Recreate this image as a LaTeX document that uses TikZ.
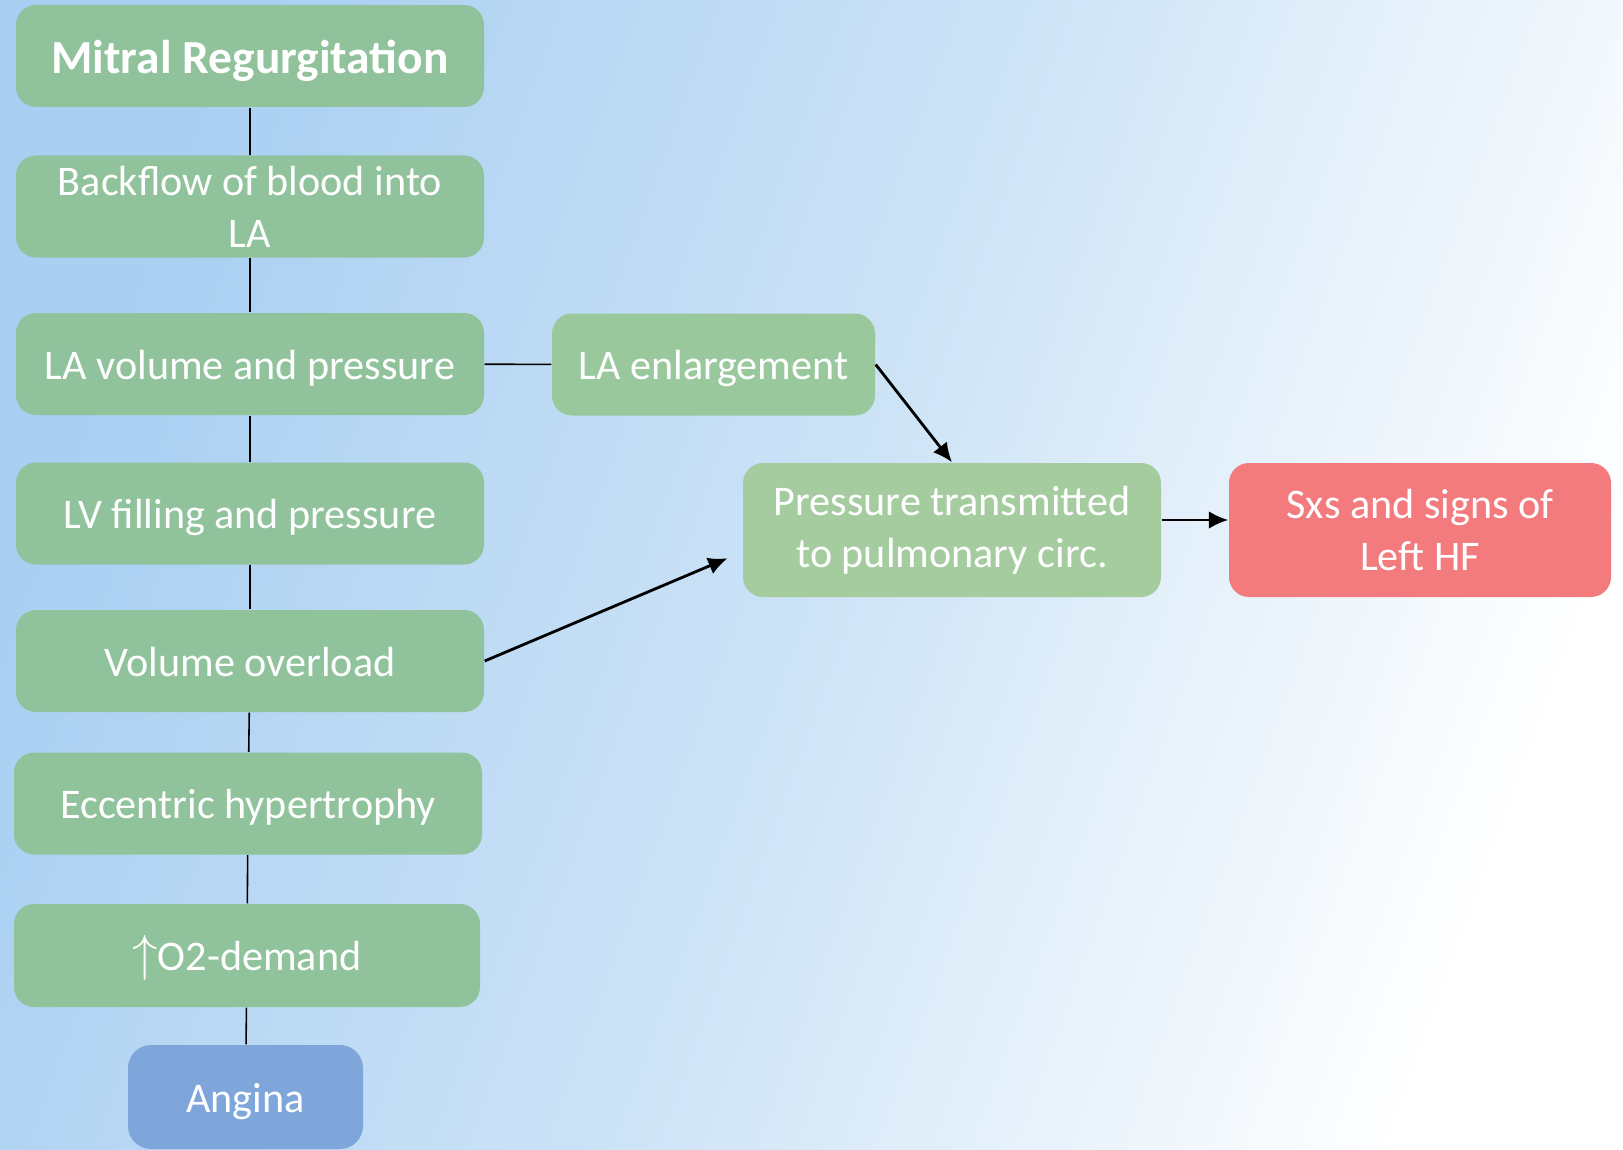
\documentclass[tikz,border=0pt]{standalone}
\usepackage{fontspec}
\setmainfont{Carlito}
\usetikzlibrary{arrows.meta}
\definecolor{bgblue}{HTML}{A9CFF2}
\definecolor{bgmid}{HTML}{CCE3F6}
\definecolor{boxgreen}{HTML}{90C29B}
\definecolor{boxgreenmid}{HTML}{9AC89D}
\definecolor{boxgreenlt}{HTML}{A4CC9F}
\definecolor{boxred}{HTML}{F37A7D}
\definecolor{boxblue}{HTML}{7FA6DA}
\begin{document}
\begin{tikzpicture}[
  box/.style={rectangle, rounded corners=0.2cm, fill=boxgreen, text=white,
    align=center, inner sep=0pt, minimum height=1.02cm,
    font=\fontsize{12}{14.8}\selectfont},
  oneline/.style={text height=11.2pt, text depth=2.4pt},
  link/.style={draw=black, line width=0.45pt},
  flow/.style={draw=black, line width=0.8pt, -{Latex[length=5.5pt,width=5pt]}}]
\useasboundingbox (0,0) rectangle (16.23,-11.49);
\shade[left color=bgblue, right color=white, middle color=bgmid,
  shading angle=70] (0,0) rectangle (16.23,-11.49);
% left column
\node[box, minimum width=4.68cm, font=\bfseries\fontsize{13.5}{16}\selectfont,
  text height=12.6pt, text depth=2.7pt]
  (mitral) at (2.50,-0.56) {Mitral Regurgitation};
\node[box, minimum width=4.68cm] (back) at (2.50,-2.065) {Backflow of blood into\\LA};
\node[box, oneline, minimum width=4.68cm] (lavol) at (2.50,-3.64) {LA volume and pressure};
\node[box, oneline, minimum width=4.68cm] (lvfill) at (2.50,-5.135) {LV filling and pressure};
\node[box, oneline, minimum width=4.68cm] (vol) at (2.50,-6.61) {Volume overload};
\node[box, oneline, minimum width=4.68cm] (ecc) at (2.48,-8.035) {Eccentric hypertrophy};
\node[box, oneline, minimum width=4.66cm, minimum height=1.03cm] (otwo) at (2.47,-9.555)
  {{\fontsize{15}{15}\selectfont$\uparrow$}O2-demand};
\node[box, oneline, fill=boxblue, minimum width=2.35cm, minimum height=1.04cm,
  rounded corners=0.23cm] (angina) at (2.455,-10.97) {Angina};
% right side
\node[box, oneline, fill=boxgreenmid, minimum width=3.23cm] (laenl) at (7.135,-3.645)
  {LA enlargement};
\node[box, fill=boxgreenlt, minimum width=4.18cm, minimum height=1.34cm]
  (press) at (9.52,-5.30) {Pressure transmitted\\to pulmonary circ.};
\node[box, fill=boxred, minimum width=3.82cm, minimum height=1.34cm]
  (sxs) at (14.20,-5.30) {Sxs and signs of\\Left HF};
% connectors
\foreach \a/\b in {mitral/back, back/lavol, lavol/lvfill, lvfill/vol,
  vol/ecc, ecc/otwo, otwo/angina}
  \draw[link] (\a) -- (\b);
\draw[link] (lavol) -- (laenl);
\draw[flow] (laenl.east) -- (press.north);
\draw[flow, shorten >=0.16cm] (vol.east) -- ([yshift=-0.22cm]press.west);
\draw[flow] ([yshift=0.1cm]press.east) -- ([yshift=0.1cm]sxs.west);
\end{tikzpicture}
\end{document}
